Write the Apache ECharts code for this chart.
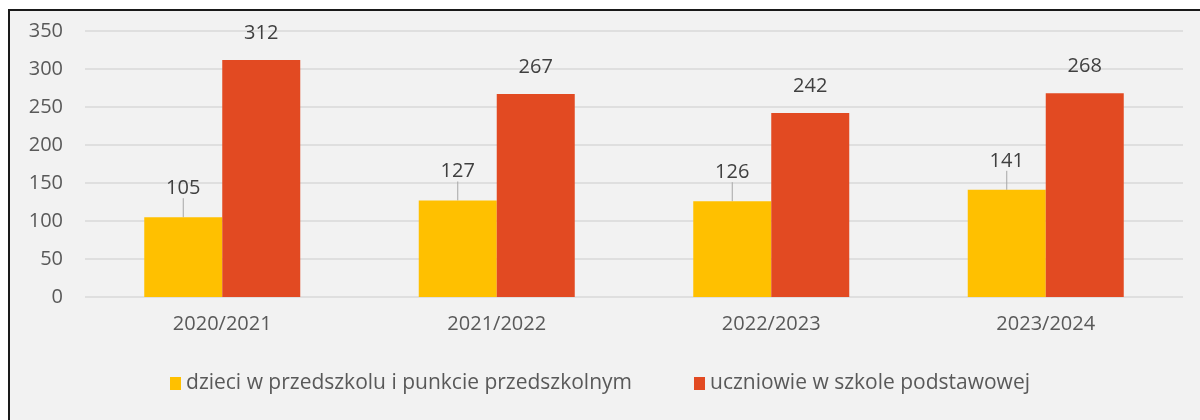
<!DOCTYPE html>
<html>
<head>
<meta charset="utf-8">
<script src="https://cdn.jsdelivr.net/npm/echarts@6/dist/echarts.min.js"></script>
<style>
  html, body { margin: 0; padding: 0; width: 1200px; height: 420px; overflow: hidden; background: #fff; }
  #frame { position: absolute; left: 8px; top: 9px; width: 1300px; height: 500px; border: 2px solid #1a1a1a; background: #F2F2F2; }
  #chart { position: absolute; left: 0; top: 0; width: 1200px; height: 420px; }
</style>
</head>
<body>
<div id="frame"></div>
<div id="chart"></div>
<script>
// lata szkolne
const categories = ['2020/2021', '2021/2022', '2022/2023', '2023/2024']
const seriesNames = ['dzieci w przedszkolu i punkcie przedszkolnym', 'uczniowie w szkole podstawowej']
const przedszkole = [105, 127, 126, 141]
const szkola = [312, 267, 242, 268]

const font = '"Open Sans", sans-serif'

let myChart = echarts.init(document.getElementById('chart'))
myChart.setOption({
  backgroundColor: 'transparent',
  color: ['#FFC000', '#E24A22'],
  textStyle: { fontFamily: font },
  grid: {
    left: 85,
    right: 17,
    top: 31,
    bottom: 123
  },
  legend: {
    top: 368,
    left: 'center',
    itemWidth: 11,
    itemHeight: 13,
    itemGap: 62,
    icon: 'rect',
    textStyle: { fontSize: 21, color: '#595959', fontFamily: font },
    data: seriesNames
  },
  xAxis: {
    type: 'category',
    data: categories,
    axisLine: { show: false },
    axisTick: { show: false },
    axisLabel: { fontSize: 20, color: '#595959', margin: 17 }
  },
  yAxis: {
    type: 'value',
    min: 0,
    max: 350,
    interval: 50,
    axisLine: { show: false },
    axisTick: { show: false },
    axisLabel: { fontSize: 20, color: '#595959', margin: 22 },
    splitLine: { lineStyle: { color: '#D9D9D9', width: 1.5 } }
  },
  series: [
    {
      name: seriesNames[0],
      type: 'bar',
      data: przedszkole,
      barWidth: 78,
      barGap: '0%',
      label: {
        show: true,
        position: 'top',
        distance: 19,
        fontSize: 20,
        color: '#404040'
      },
      labelLine: {
        show: true,
        lineStyle: { color: '#A6A6A6', width: 1 }
      }
    },
    {
      name: seriesNames[1],
      type: 'bar',
      data: szkola,
      barWidth: 78,
      label: {
        show: true,
        position: 'top',
        distance: 17,
        fontSize: 20,
        color: '#404040'
      }
    }
  ]
})
myChart.resize()
</script>
</body>
</html>
